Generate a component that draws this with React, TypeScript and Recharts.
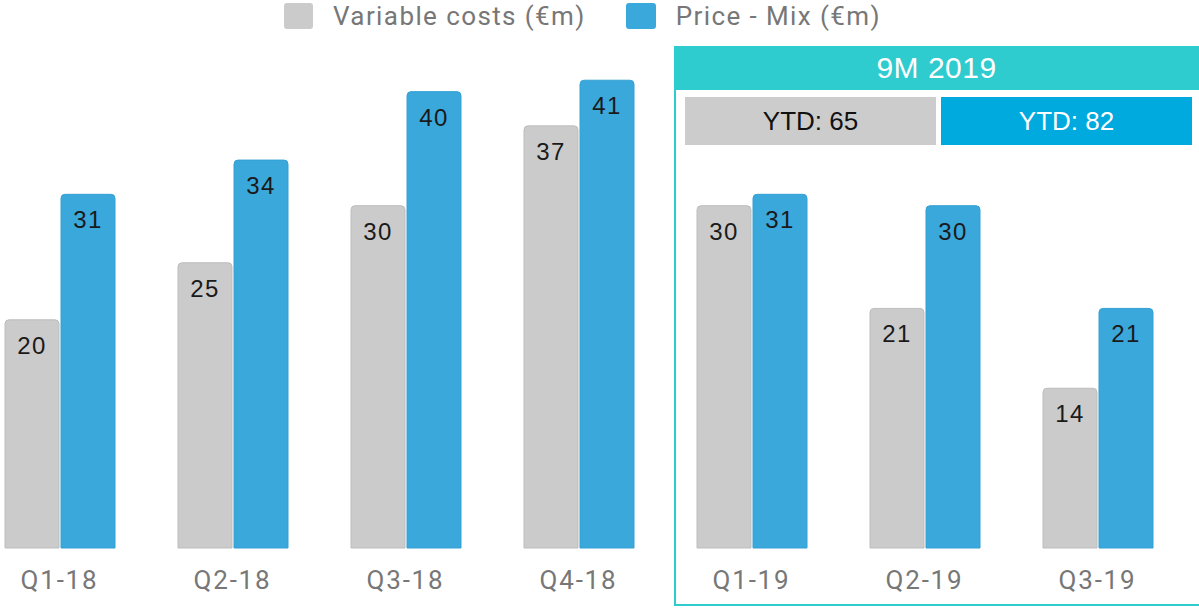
import { BarChart, Bar, XAxis, YAxis, LabelList } from 'recharts'

const categories = ['Q1-18', 'Q2-18', 'Q3-18', 'Q4-18', 'Q1-19', 'Q2-19', 'Q3-19']
const variableCosts = [20, 25, 30, 37, 30, 21, 14]
const priceMix = [31, 34, 40, 41, 31, 30, 21]
const seriesNames = ['Variable costs (€m)', 'Price - Mix (€m)']
const periodTitle = '9M 2019'
const ytdLabels = ['YTD: 65', 'YTD: 82']

const GREY = '#cbcbcb'
const BLUE = '#3ba8dc'
const TEAL = '#2ecbcf'

const data = categories.map((name, i) => ({
  name,
  variable: variableCosts[i],
  price: priceMix[i],
}))

export default function App() {
  return (
    <div
      style={{
        position: 'absolute',
        left: 0,
        top: 0,
        width: 1199,
        height: 608,
        overflow: 'hidden',
        background: '#fff',
        fontFamily: 'Roboto, sans-serif',
      }}
    >
      {/* 9M 2019 box */}
      <div
        style={{
          position: 'absolute',
          left: 674,
          top: 46,
          width: 540,
          height: 560,
          border: `2px solid ${TEAL}`,
          boxSizing: 'border-box',
        }}
      />
      <div
        style={{
          position: 'absolute',
          left: 674,
          top: 46,
          width: 525,
          height: 44,
          background: TEAL,
          color: '#fff',
          fontFamily: '"Liberation Sans", Arial, sans-serif',
          fontSize: 30,
          lineHeight: '44px',
          textAlign: 'center',
          letterSpacing: 0.5,
        }}
      >
        {periodTitle}
      </div>
      <div
        style={{
          position: 'absolute',
          left: 685,
          top: 97,
          width: 251,
          height: 48,
          background: '#cccccc',
          color: '#111',
          fontFamily: '"Liberation Sans", Arial, sans-serif',
          fontSize: 26,
          lineHeight: '48px',
          textAlign: 'center',
        }}
      >
        {ytdLabels[0]}
      </div>
      <div
        style={{
          position: 'absolute',
          left: 941,
          top: 97,
          width: 251,
          height: 48,
          background: '#00aadf',
          color: '#fff',
          fontFamily: '"Liberation Sans", Arial, sans-serif',
          fontSize: 26,
          lineHeight: '48px',
          textAlign: 'center',
        }}
      >
        {ytdLabels[1]}
      </div>

      {/* legend */}
      <div style={{ position: 'absolute', left: 284, top: 1, display: 'flex', alignItems: 'center', color: '#777', fontSize: 26, letterSpacing: 1.4 }}>
        <span style={{ width: 29, height: 26, background: GREY, borderRadius: 3, marginRight: 20 }} />
        <span style={{ marginRight: 40 }}>{seriesNames[0]}</span>
        <span style={{ width: 30, height: 26, background: BLUE, borderRadius: 3, marginRight: 20 }} />
        <span>{seriesNames[1]}</span>
      </div>

      <div style={{ position: 'absolute', left: -27, top: 0 }}>
        <BarChart
          width={1211}
          height={608}
          data={data}
          margin={{ top: 46, right: 0, bottom: 0, left: 0 }}
          barGap={2}
          barSize={54}
        >
          <XAxis
            dataKey="name"
            height={60}
            axisLine={false}
            tickLine={false}
            tickMargin={17}
            interval={0}
            tick={{ fontSize: 26, fill: '#777', fontFamily: 'Roboto, sans-serif', letterSpacing: 1.8 }}
          />
          <YAxis hide domain={[0, 44]} />
          <Bar dataKey="variable" name={seriesNames[0]} fill={GREY} stroke="#bdbdbd" strokeWidth={1} radius={[4, 4, 0, 0]} isAnimationActive={false}>
            <LabelList dataKey="variable" position="insideTop" offset={17} fill="#1a1a1a" fontSize={24} letterSpacing={1.5} fontFamily='"Liberation Sans", Arial, sans-serif' />
          </Bar>
          <Bar dataKey="price" name={seriesNames[1]} fill={BLUE} stroke="#35a0d4" strokeWidth={1} radius={[4, 4, 0, 0]} isAnimationActive={false}>
            <LabelList dataKey="price" position="insideTop" offset={17} fill="#1a1a1a" fontSize={24} letterSpacing={1.5} fontFamily='"Liberation Sans", Arial, sans-serif' />
          </Bar>
        </BarChart>
      </div>
    </div>
  )
}
